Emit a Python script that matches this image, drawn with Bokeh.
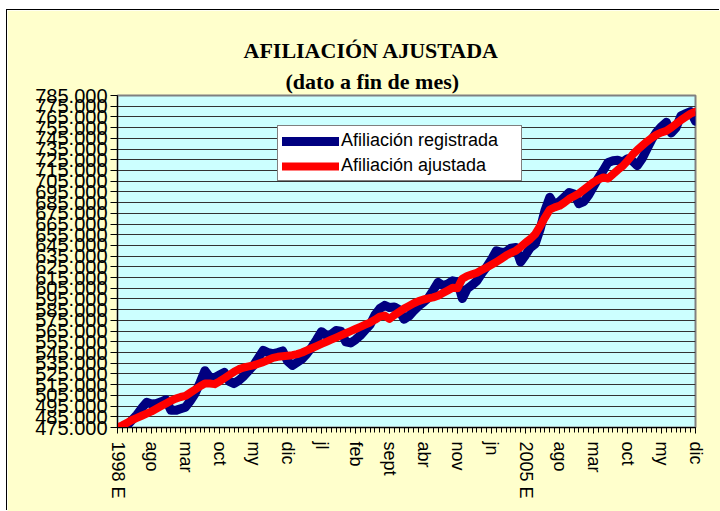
from bokeh.plotting import figure
from bokeh.models import Range1d, FixedTicker, Legend, LegendItem, Title
from bokeh.embed import file_html
from bokeh.resources import INLINE

# ---- data (thousands of affiliates, monthly Jan 1998 .. Dec 2007) ----
months = list(range(120))

registrada = [
    472, 474, 477, 482, 487, 493, 498.5, 497, 497.5, 499, 501, 491,
    491, 492.5, 494, 500, 507, 517, 528, 522, 521.5, 524, 526.5, 518,
    516, 519, 523, 528, 533, 540, 547, 545, 544, 545, 546.5, 537,
    533, 536, 539, 544, 550, 557, 564.5, 561, 562, 565.5, 565, 555,
    554, 557, 561, 566, 571, 580, 586, 589, 587, 587.5, 585, 576,
    579, 584, 588.5, 592, 596, 603, 610.5, 607.5, 609, 612, 611, 595.5,
    604.5, 608, 612, 619, 625, 632, 640, 638.5, 639, 642.5, 643, 629.5,
    636, 643, 646.5, 660, 677.5, 690, 682.5, 686, 690, 694.5, 693, 684,
    686, 692, 700, 708, 715, 722.5, 724, 724.5, 723, 726, 724, 719.5,
    726, 735, 744, 751, 756, 760, 750, 755, 766, 768, 770, 761,
]

ajustada = [
    475, 477, 479.5, 482, 484, 486, 488, 490, 492.5, 495, 497.5, 500,
    502, 503.5, 504.5, 507.5, 510.5, 513.5, 516, 516, 515.5, 518, 521, 524,
    527, 529.5, 531, 532, 533, 534.5, 536, 538, 540, 541, 541.5, 542,
    542.5, 543.5, 545, 547, 549, 551, 553, 555, 557, 559, 561, 563,
    565, 567, 569, 571, 573, 575.5, 578.5, 579.5, 576.5, 580, 583, 586,
    588.5, 591, 593, 594.5, 595.5, 596.5, 598, 600.5, 603, 605.5, 605, 614,
    616.5, 618, 619.5, 622, 624.5, 627, 629.5, 632.5, 635.5, 638, 640, 643.5,
    647.5, 651, 655.5, 663, 671, 678.5, 680.5, 682, 685, 688.5, 691, 693.5,
    697, 700.5, 704, 706.5, 708.5, 707.5, 711.5, 715.5, 719, 724, 729.5, 734,
    738, 742, 745.5, 748.5, 750.5, 752, 755, 758.5, 762, 765, 768, 770,
]

x_tick_positions = [0, 7, 14, 21, 28, 35, 42, 49, 56, 63, 70, 77, 84, 91, 98, 105, 112, 119]
x_tick_labels = ["1998 E", "ago", "mar", "oct", "my", "dic", "jl", "feb", "sept",
                 "abr", "nov", "jn", "2005 E", "ago", "mar", "oct", "my", "dic"]

y_ticks = list(range(475000, 785001, 10000))
y_tick_labels = [f"{v // 1000}.000" for v in y_ticks]

title_main = "AFILIACIÓN AJUSTADA"
title_sub = "(dato a fin de mes)"
series_names = ["Afiliación registrada", "Afiliación ajustada"]

# ---- figure ----
p = figure(width=713, height=501, output_backend="svg", toolbar_location=None,
           x_range=Range1d(0, 119), y_range=Range1d(475000, 785000),
           min_border_left=110, min_border_right=25, min_border_top=85,
           min_border_bottom=84)
p.margin = (10, 0, 0, 7)
p.styles = {"box-shadow": "-1px -1px 0px 0px black"}

p.background_fill_color = "#CCFFFF"
p.border_fill_color = "#FFFFCC"
p.outline_line_color = "#808080"
p.outline_line_width = 2

# y axis
p.yaxis.ticker = FixedTicker(ticks=y_ticks)
p.yaxis.major_label_overrides = {t: l for t, l in zip(y_ticks, y_tick_labels)}
p.yaxis.major_label_text_font = "Liberation Sans"
p.yaxis.major_label_text_font_size = "20px"
p.yaxis.major_label_text_color = "black"
p.yaxis.major_label_standoff = 3
p.yaxis.major_tick_out = 7
p.yaxis.major_tick_in = 0
p.yaxis.minor_tick_line_color = None
p.yaxis.axis_line_color = "black"
p.yaxis.major_tick_line_color = "black"

# x axis
p.xaxis.ticker = FixedTicker(ticks=x_tick_positions, minor_ticks=months)
p.xaxis.major_label_overrides = {t: l for t, l in zip(x_tick_positions, x_tick_labels)}
p.xaxis.major_label_orientation = "vertical"
p.xaxis.major_label_text_font = "Liberation Sans"
p.xaxis.major_label_text_font_size = "18px"
p.xaxis.major_label_text_color = "black"
p.xaxis.major_label_standoff = 8
p.xaxis.major_tick_out = 6
p.xaxis.major_tick_in = 0
p.xaxis.minor_tick_out = 5
p.xaxis.minor_tick_in = 0
p.xaxis.axis_line_color = "black"
p.xaxis.major_tick_line_color = "black"
p.xaxis.minor_tick_line_color = "black"

# grid
p.xgrid.grid_line_color = None
p.ygrid.grid_line_color = "#333333"
p.ygrid.grid_line_width = 1

# ---- series ----
reg_vals = [v * 1000 for v in registrada]
adj_vals = [v * 1000 for v in ajustada]

r1 = p.line(months, reg_vals, line_color="#000080", line_width=9,
            line_cap="round", line_join="round")
r2 = p.line(months, adj_vals, line_color="#FF0000", line_width=8,
            line_cap="round", line_join="round")

legend = Legend(items=[LegendItem(label=series_names[0], renderers=[r1]),
                       LegendItem(label=series_names[1], renderers=[r2])],
                location=(160, 246))
legend.label_text_font = "Liberation Sans"
legend.label_text_font_size = "18px"
legend.label_text_color = "black"
legend.glyph_width = 57
legend.glyph_height = 20
legend.label_height = 20
legend.label_width = 176
legend.label_standoff = 2
legend.spacing = 4
legend.padding = 4
legend.margin = 0
legend.border_line_color = "black"
legend.border_line_width = 1
legend.background_fill_color = "white"
legend.background_fill_alpha = 1
p.add_layout(legend, "center")

# ---- titles (subtitle first = closest to the frame) ----
p.add_layout(Title(text=title_sub, align="left", offset=168, standoff=4,
                   text_font="Liberation Serif", text_font_style="bold",
                   text_font_size="22px", text_color="black"), "above")
p.add_layout(Title(text=title_main, align="left", offset=126, standoff=4,
                   text_font="Liberation Serif", text_font_style="bold",
                   text_font_size="22px", text_color="black"), "above")

open("out.html", "w").write(file_html(p, INLINE))
